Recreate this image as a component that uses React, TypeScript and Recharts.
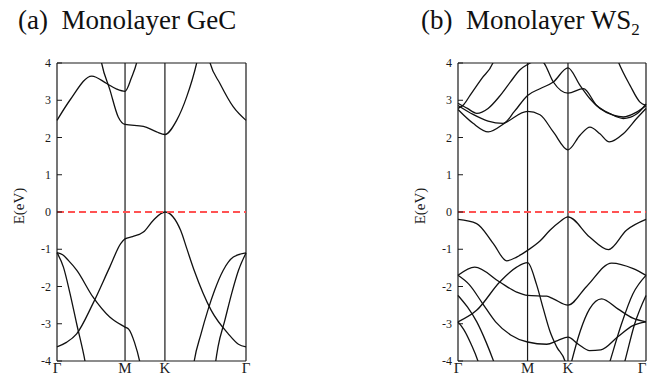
import React from 'react';
import { LineChart, Line, XAxis, YAxis, ReferenceLine } from 'recharts';

type Pt = [number, number];

// k positions along the path Γ-M-K-Γ (fraction of total length)
const gecM = 0.36;
const gecK = 0.571;
const ws2M = 0.37;
const ws2K = 0.585;
const energyTicks = [-4, -3, -2, -1, 0, 1, 2, 3, 4];

// Monolayer GeC, [k, E(eV)]
const gecCond1a: Pt[] = [[0, 2.46], [0.068, 3.0], [0.184, 3.65], [0.263, 3.45], [0.316, 3.3], [0.36, 3.24], [0.395, 3.62], [0.421, 4.0], [0.43, 4.2]];
const gecCond1b: Pt[] = [[0.8, 4.2], [0.81, 4.0], [0.862, 3.45], [0.933, 2.82], [1, 2.46]];
const gecCond2: Pt[] = [[0.225, 4.3], [0.236, 4.0], [0.28, 3.28], [0.324, 2.55], [0.36, 2.35], [0.457, 2.3], [0.527, 2.15], [0.571, 2.08], [0.633, 2.46], [0.686, 3.09], [0.739, 4.0], [0.75, 4.25]];
const gecVal1: Pt[] = [[0, -3.62], [0.05, -3.5], [0.104, -3.27], [0.19, -2.46], [0.279, -1.48], [0.337, -0.85], [0.36, -0.72], [0.4, -0.66], [0.457, -0.54], [0.51, -0.22], [0.571, 0], [0.654, -0.49], [0.686, -0.97], [0.726, -1.57], [0.816, -2.64], [0.906, -3.27], [0.96, -3.55], [1, -3.62]];
const gecVal2: Pt[] = [[0, -1.09], [0.03, -1.15], [0.06, -1.3], [0.104, -1.56], [0.19, -2.28], [0.279, -2.82], [0.36, -3.09], [0.38, -3.15], [0.41, -3.5], [0.437, -4.0], [0.445, -4.2]];
const gecVal3: Pt[] = [[0, -1.09], [0.034, -1.48], [0.069, -2.19], [0.104, -3.0], [0.148, -4.0], [0.155, -4.2]];
const gecVal4: Pt[] = [[0.72, -4.2], [0.726, -4.0], [0.762, -3.27], [0.798, -2.64], [0.834, -2.1], [0.879, -1.57], [0.933, -1.21], [1, -1.1]];
const gecVal5: Pt[] = [[0.835, -4.2], [0.84, -4.0], [0.852, -3.62], [0.888, -2.91], [0.924, -2.19], [0.96, -1.57], [1, -1.1]];

// Monolayer WS2, [k, E(eV)]
const ws2Cond1: Pt[] = [[0, 2.75], [0.08, 2.38], [0.161, 2.15], [0.26, 2.42], [0.37, 2.7], [0.436, 2.61], [0.507, 2.15], [0.585, 1.67], [0.649, 2.06], [0.702, 2.28], [0.755, 2.1], [0.805, 1.88], [0.879, 2.1], [0.95, 2.51], [1, 2.78]];
const ws2Cond2: Pt[] = [[0, 2.86], [0.08, 2.62], [0.16, 2.44], [0.24, 2.38], [0.3, 2.7], [0.37, 3.13], [0.436, 3.31], [0.507, 3.49], [0.585, 3.87], [0.649, 3.4], [0.702, 3.04], [0.755, 2.78], [0.826, 2.6], [0.879, 2.55], [0.95, 2.68], [1, 2.85]];
const ws2Cond3: Pt[] = [[0, 2.92], [0.05, 2.78], [0.1, 2.65], [0.16, 2.78], [0.22, 3.1], [0.28, 3.5], [0.33, 3.82], [0.37, 3.96], [0.41, 4.06], [0.435, 4.08], [0.454, 4.02], [0.507, 3.49], [0.585, 3.19], [0.667, 3.31], [0.738, 2.86], [0.809, 2.64], [0.879, 2.51], [0.95, 2.63], [1, 2.9]];
const ws2Cond4: Pt[] = [[0, 2.78], [0.03, 2.88], [0.064, 3.13], [0.126, 3.58], [0.188, 4.03], [0.2, 4.2]];
const ws2Cond5: Pt[] = [[0.84, 4.2], [0.853, 4.03], [0.915, 3.4], [0.968, 2.95], [1, 2.86]];
const ws2Val1: Pt[] = [[0, -0.2], [0.099, -0.31], [0.188, -0.85], [0.259, -1.31], [0.312, -1.21], [0.37, -1.03], [0.436, -0.78], [0.489, -0.49], [0.54, -0.27], [0.585, -0.13], [0.7, -0.67], [0.8, -1.01], [0.896, -0.49], [1, -0.2]];
const ws2Val2: Pt[] = [[0, -1.7], [0.089, -1.48], [0.222, -1.88], [0.312, -2.15], [0.37, -2.24], [0.472, -2.26], [0.507, -2.33], [0.585, -2.5], [0.684, -2.0], [0.817, -1.37], [0.932, -1.52], [1, -1.7]];
const ws2Val3: Pt[] = [[0, -2.95], [0.099, -2.64], [0.222, -1.88], [0.312, -1.48], [0.37, -1.36], [0.418, -1.95], [0.454, -2.6], [0.489, -3.2], [0.525, -3.62], [0.569, -4.0], [0.58, -4.2]];
const ws2Val4: Pt[] = [[0, -1.7], [0.06, -1.95], [0.13, -2.45], [0.2, -2.95], [0.28, -3.3], [0.37, -3.49], [0.472, -3.55], [0.53, -3.45], [0.585, -3.36], [0.64, -3.55], [0.7, -3.72], [0.76, -3.7], [0.85, -3.35], [0.93, -3.05], [1, -2.95]];
const ws2Val5: Pt[] = [[0, -2.24], [0.05, -2.55], [0.1, -2.95], [0.15, -3.5], [0.189, -4.0], [0.2, -4.15]];
const ws2Val6: Pt[] = [[0, -2.95], [0.03, -3.15], [0.07, -3.55], [0.106, -4.0], [0.115, -4.15]];
const ws2Val7: Pt[] = [[0.595, -4.2], [0.605, -4.0], [0.65, -3.2], [0.7, -2.6], [0.764, -2.33], [0.85, -2.6], [0.93, -2.85], [1, -2.95]];
const ws2Val8: Pt[] = [[0.8, -4.15], [0.809, -4.0], [0.87, -3.0], [0.93, -2.2], [1, -1.7]];
const ws2Val9: Pt[] = [[0.88, -4.15], [0.888, -4.0], [0.94, -3.0], [1, -2.24]];

const gecBands = [gecCond1a, gecCond1b, gecCond2, gecVal1, gecVal2, gecVal3, gecVal4, gecVal5];
const ws2Bands = [ws2Cond1, ws2Cond2, ws2Cond3, ws2Cond4, ws2Cond5, ws2Val1, ws2Val2, ws2Val3, ws2Val4, ws2Val5, ws2Val6, ws2Val7, ws2Val8, ws2Val9];

const serif = 'Liberation Serif';
const ink = '#1a1a1a';
const AXIS_X = 57;

const EnergyTick = (props: any) => {
  const { y, payload } = props;
  return (
    <g>
      <line x1={AXIS_X} x2={AXIS_X + 5} y1={y} y2={y} stroke={ink} strokeWidth={1} />
      <text x={51} y={y} dy={4} textAnchor="end" fontSize={12} fontFamily={serif} fill={ink}>
        {payload.value}
      </text>
    </g>
  );
};

interface BandPanelProps {
  bands: Pt[][];
  kM: number;
  kK: number;
  width: number;
  right: number;
}

const BandPanel: React.FC<BandPanelProps> = ({ bands, kM, kK, width, right }) => {
  const pointLabel = (v: number) => (v === kM ? 'M' : v === kK ? 'K' : 'Γ');
  // keep the last label inside the page when the panel sits at its edge
  const PathTick = (props: any) => (
    <text x={Math.min(props.x, width - 6)} y={373} textAnchor="middle" fontSize={15} fontFamily={serif} fill={ink}>
      {pointLabel(props.payload.value)}
    </text>
  );

  return (
    <LineChart width={width} height={376} margin={{ top: 63, right, bottom: 0, left: 0 }}>
      <XAxis
        dataKey="k"
        type="number"
        domain={[0, 1]}
        ticks={[0, kM, kK, 1]}
        interval={0}
        height={15}
        axisLine={{ stroke: ink, strokeWidth: 1.2 }}
        tickLine={false}
        tick={<PathTick />}
      />
      <YAxis
        type="number"
        domain={[-4, 4]}
        ticks={energyTicks}
        interval={0}
        allowDataOverflow
        width={AXIS_X}
        axisLine={{ stroke: ink, strokeWidth: 1.2 }}
        tickLine={false}
        tick={<EnergyTick />}
      />
      <ReferenceLine y={4} stroke={ink} strokeWidth={1.2} />
      <ReferenceLine x={1} stroke={ink} strokeWidth={1.2} />
      <ReferenceLine x={kM} stroke={ink} strokeWidth={1.2} />
      <ReferenceLine x={kK} stroke={ink} strokeWidth={1.2} />
      {bands.map((band, i) => (
        <Line
          key={i}
          data={band.map(([k, e]) => ({ k, e }))}
          dataKey="e"
          type="monotone"
          stroke="#111"
          strokeWidth={1.3}
          dot={false}
          activeDot={false}
          isAnimationActive={false}
        />
      ))}
      <ReferenceLine y={0} stroke="#ff5252" strokeWidth={2} strokeDasharray="7 4" />
    </LineChart>
  );
};

const titleStyle: React.CSSProperties = {
  position: 'absolute',
  top: 5,
  fontFamily: serif,
  fontSize: 27,
  color: '#111',
  whiteSpace: 'pre',
  lineHeight: '30px',
};

const yLabelStyle: React.CSSProperties = {
  position: 'absolute',
  top: 206,
  fontFamily: serif,
  fontSize: 15,
  color: ink,
  whiteSpace: 'pre',
  transform: 'translate(-50%, -50%) rotate(-90deg)',
};

export default function App() {
  return (
    <div style={{ position: 'absolute', left: 0, top: 0, width: 648, height: 376, background: '#fff', overflow: 'hidden' }}>
      <div style={{ ...titleStyle, left: 18 }}>(a)  Monolayer GeC</div>
      <div style={{ ...titleStyle, left: 421 }}>
        (b)  Monolayer WS<sub style={{ fontSize: 17, verticalAlign: '-6px' }}>2</sub>
      </div>
      <div style={{ position: 'absolute', left: 0, top: 0 }}>
        <BandPanel bands={gecBands} kM={gecM} kK={gecK} width={252} right={6} />
      </div>
      <div style={{ position: 'absolute', left: 401, top: 0 }}>
        <BandPanel bands={ws2Bands} kM={ws2M} kK={ws2K} width={247} right={2} />
      </div>
      <div style={{ ...yLabelStyle, left: 19 }}>E(eV)</div>
      <div style={{ ...yLabelStyle, left: 420 }}>E(eV)</div>
    </div>
  );
}
